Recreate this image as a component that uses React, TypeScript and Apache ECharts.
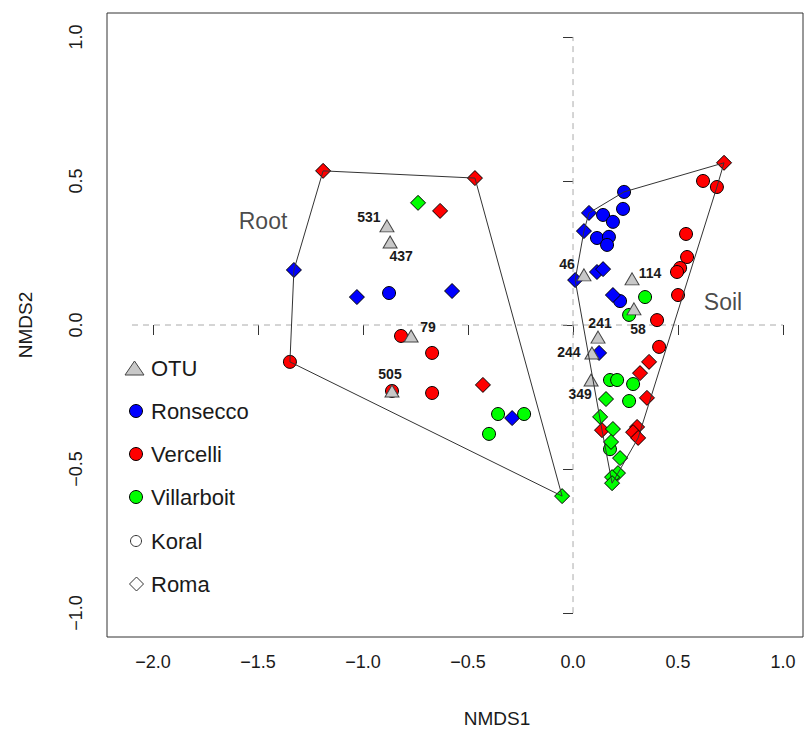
import React, { useEffect, useRef } from "react";
import * as echarts from "echarts";

const xTicks = [-2, -1.5, -1, -0.5, 0, 0.5, 1];
const yTicks = [-1, -0.5, 0, 0.5, 1];
const zeroLineX = [-2.1, 1.0];
const zeroLineY = [-1, 1];

const rootRonseccoKoral = [[-0.876, 0.111]];
const soilRonseccoKoral = [[0.143, 0.382], [0.238, 0.403], [0.243, 0.462], [0.19, 0.358], [0.114, 0.302], [0.171, 0.306], [0.162, 0.278], [0.224, 0.083]];
const rootRonseccoRoma = [[-1.329, 0.191], [-1.029, 0.097], [-0.576, 0.118], [-0.29, -0.323]];
const soilRonseccoRoma = [[0.076, 0.389], [0.052, 0.326], [0.01, 0.156], [0.114, 0.184], [0.143, 0.194], [0.19, 0.104], [0.124, -0.097]];
const rootVercelliKoral = [[-1.348, -0.128], [-0.819, -0.038], [-0.671, -0.097], [-0.671, -0.236], [-0.862, -0.229]];
const soilVercelliKoral = [[0.619, 0.5], [0.685, 0.479], [0.538, 0.316], [0.543, 0.236], [0.51, 0.198], [0.495, 0.184], [0.5, 0.104], [0.4, 0.017], [0.41, -0.076]];
const rootVercelliRoma = [[-1.19, 0.535], [-0.467, 0.51], [-0.633, 0.396], [-0.429, -0.208]];
const soilVercelliRoma = [[0.719, 0.563], [0.362, -0.128], [0.319, -0.167], [0.352, -0.253], [0.138, -0.365], [0.305, -0.354], [0.286, -0.372], [0.31, -0.392]];
const rootVillarboitKoral = [[-0.357, -0.309], [-0.233, -0.309], [-0.4, -0.378]];
const soilVillarboitKoral = [[0.343, 0.097], [0.267, 0.035], [0.176, -0.191], [0.21, -0.191], [0.286, -0.205], [0.267, -0.264], [0.176, -0.431]];
const rootVillarboitRoma = [[-0.738, 0.424], [-0.052, -0.594]];
const soilVillarboitRoma = [[0.157, -0.257], [0.129, -0.319], [0.19, -0.361], [0.181, -0.406], [0.224, -0.462], [0.214, -0.514], [0.186, -0.528], [0.186, -0.549]];

const otuNames = ["531", "437", "79", "505", "46", "114", "58", "241", "244", "349"];
const otuPoints = [[-0.886, 0.344], [-0.871, 0.288], [-0.771, -0.038], [-0.862, -0.229], [0.052, 0.174], [0.281, 0.16], [0.29, 0.056], [0.119, -0.042], [0.09, -0.097], [0.086, -0.191]];
// label offsets in pixels (style, not data)
const otuLabelOffsets = [[-18, -9], [11, 14], [17, -9], [-2, -17], [-17, -11], [18, -6], [4, 20], [2, -14], [-23, -1], [-11, 14]];

const groupNames = ["Root", "Soil"];
const groupLabelPos = [[-1.476, 0.361], [0.714, 0.08]];

const legendLabels = ["OTU", "Ronsecco", "Vercelli", "Villarboit", "Koral", "Roma"];

const FONT = '"Liberation Sans", Arial, Helvetica, sans-serif';
const BLUE = "#0000ff";
const RED = "#ff0000";
const GREEN = "#00ff00";
const TEXT = "#1a1a1a";

function convexHull(pts: number[][]): number[][] {
  const p = pts.slice().sort((a, b) => a[0] - b[0] || a[1] - b[1]);
  const cross = (o: number[], a: number[], b: number[]) =>
    (a[0] - o[0]) * (b[1] - o[1]) - (a[1] - o[1]) * (b[0] - o[0]);
  const lower: number[][] = [];
  for (const q of p) {
    while (lower.length >= 2 && cross(lower[lower.length - 2], lower[lower.length - 1], q) <= 0) lower.pop();
    lower.push(q);
  }
  const upper: number[][] = [];
  for (let i = p.length - 1; i >= 0; i--) {
    const q = p[i];
    while (upper.length >= 2 && cross(upper[upper.length - 2], upper[upper.length - 1], q) <= 0) upper.pop();
    upper.push(q);
  }
  upper.pop();
  lower.pop();
  const h = lower.concat(upper);
  h.push(h[0]);
  return h;
}

const fmt = (v: number) => (v < 0 ? "\u2212" + Math.abs(v).toFixed(1) : v.toFixed(1));

export default function App() {
  const ref = useRef<HTMLDivElement>(null);
  useEffect(() => {
    if (!ref.current) return;
    const chart = echarts.init(ref.current, undefined, { renderer: "svg" });

    const rootAll = [
      ...rootRonseccoKoral, ...rootRonseccoRoma, ...rootVercelliKoral,
      ...rootVercelliRoma, ...rootVillarboitKoral, ...rootVillarboitRoma,
    ];
    const soilAll = [
      ...soilRonseccoKoral, ...soilRonseccoRoma, ...soilVercelliKoral,
      ...soilVercelliRoma, ...soilVillarboitKoral, ...soilVillarboitRoma,
    ];

    const pointSeries = (name: string, data: number[][], symbol: string, color: string) => ({
      type: "scatter",
      name,
      data,
      symbol,
      symbolSize: symbol === "diamond" ? 15 : 13,
      itemStyle: { color, borderColor: "#000", borderWidth: 1, opacity: 1 },
      z: 3,
      silent: true,
    });

    const legendColors = [null, BLUE, RED, GREEN, "#fff", "#fff"];
    const legendY = [368, 411, 454, 497, 541, 584];
    const legendGraphics: any[] = [];
    legendLabels.forEach((lab, i) => {
      const y = legendY[i];
      if (i === 0) {
        legendGraphics.push({
          type: "polygon",
          shape: { points: [[125, y + 7], [144, y + 7], [134.5, y - 7]] },
          style: { fill: "#c8c8c8", stroke: "#444", lineWidth: 1 },
        });
      } else if (i < 5) {
        legendGraphics.push({
          type: "circle",
          shape: { cx: 136, cy: y, r: i === 4 ? 5.5 : 6.5 },
          style: { fill: legendColors[i], stroke: i === 4 ? "#333" : "#000", lineWidth: 1 },
        });
      } else {
        legendGraphics.push({
          type: "polygon",
          shape: { points: [[136.5, y - 7], [143.5, y], [136.5, y + 7], [129.5, y]] },
          style: { fill: "#fff", stroke: "#333", lineWidth: 1 },
        });
      }
      legendGraphics.push({
        type: "text",
        x: 151,
        y,
        style: { text: lab, fontSize: 22, fontFamily: FONT, fill: TEXT, verticalAlign: "middle", align: "left" },
      });
    });

    chart.setOption({
      animation: false,
      backgroundColor: "#fff",
      grid: {
        left: 107, right: 2, top: 13, bottom: 97,
        show: true, borderColor: "#333", borderWidth: 1, backgroundColor: "transparent",
        containLabel: false,
      },
      xAxis: {
        type: "value",
        min: -2.219,
        max: 1.095,
        axisLine: { show: false },
        splitLine: { show: false },
        axisTick: { show: true, customValues: xTicks, length: 10, inside: false, lineStyle: { color: "#333", width: 1 } },
        axisLabel: { show: true, customValues: xTicks, formatter: fmt, fontSize: 18, fontFamily: FONT, color: TEXT, margin: 16 },
      },
      yAxis: {
        type: "value",
        min: -1.083,
        max: 1.083,
        axisLine: { show: false },
        splitLine: { show: false },
        axisTick: { show: true, customValues: yTicks, length: 10, inside: false, lineStyle: { color: "#333", width: 1 } },
        axisLabel: { show: true, customValues: yTicks, formatter: fmt, fontSize: 18, fontFamily: FONT, color: TEXT, margin: 22, rotate: 90 },
      },
      graphic: [
        {
          type: "text", x: 497, y: 718,
          style: { text: "NMDS1", fontSize: 19, fontFamily: FONT, fill: TEXT, align: "center", verticalAlign: "middle" },
        },
        {
          type: "text", x: 25, y: 325, rotation: Math.PI / 2,
          style: { text: "NMDS2", fontSize: 19, fontFamily: FONT, fill: TEXT, align: "center", verticalAlign: "middle" },
        },
        ...legendGraphics,
      ],
      series: [
        {
          type: "line", data: [[zeroLineX[0], 0], [zeroLineX[1], 0]], symbol: "none", silent: true, z: 1,
          lineStyle: { color: "#aaa", width: 1, type: [6, 5] },
        },
        {
          type: "line", data: [[0, zeroLineY[0]], [0, zeroLineY[1]]], symbol: "none", silent: true, z: 1,
          lineStyle: { color: "#aaa", width: 1, type: [6, 5] },
        },
        pointSeries("Ronsecco Koral", [...rootRonseccoKoral, ...soilRonseccoKoral], "circle", BLUE),
        pointSeries("Ronsecco Roma", [...rootRonseccoRoma, ...soilRonseccoRoma], "diamond", BLUE),
        pointSeries("Vercelli Koral", [...rootVercelliKoral, ...soilVercelliKoral], "circle", RED),
        pointSeries("Vercelli Roma", [...rootVercelliRoma, ...soilVercelliRoma], "diamond", RED),
        pointSeries("Villarboit Koral", [...rootVillarboitKoral, ...soilVillarboitKoral], "circle", GREEN),
        pointSeries("Villarboit Roma", [...rootVillarboitRoma, ...soilVillarboitRoma], "diamond", GREEN),
        {
          type: "scatter",
          name: "OTU",
          symbol: "triangle",
          symbolSize: [14, 12],
          z: 4,
          silent: true,
          itemStyle: { color: "#c8c8c8", borderColor: "#444", borderWidth: 1, opacity: 1 },
          data: otuPoints.map((p, i) => ({
            value: p,
            name: otuNames[i],
            label: {
              show: true,
              position: "inside",
              offset: otuLabelOffsets[i],
              formatter: otuNames[i],
              fontSize: 14,
              fontWeight: "bold",
              fontFamily: FONT,
              color: TEXT,
            },
          })),
        },
        {
          type: "line", name: "Root hull", data: convexHull(rootAll), symbol: "none", silent: true, z: 5,
          lineStyle: { color: "#333", width: 1 },
        },
        {
          type: "line", name: "Soil hull", data: convexHull(soilAll), symbol: "none", silent: true, z: 5,
          lineStyle: { color: "#333", width: 1 },
        },
        {
          type: "scatter",
          symbolSize: 0,
          silent: true,
          z: 6,
          data: groupLabelPos.map((p, i) => ({
            value: p,
            name: groupNames[i],
            label: {
              show: true, position: "inside", formatter: groupNames[i],
              fontSize: 23, fontFamily: FONT, color: TEXT,
            },
          })),
        },
      ],
    });
    return () => chart.dispose();
  }, []);
  return (
    <div
      ref={ref}
      style={{ position: "absolute", left: 0, top: 0, width: 805, height: 734 }}
    />
  );
}
